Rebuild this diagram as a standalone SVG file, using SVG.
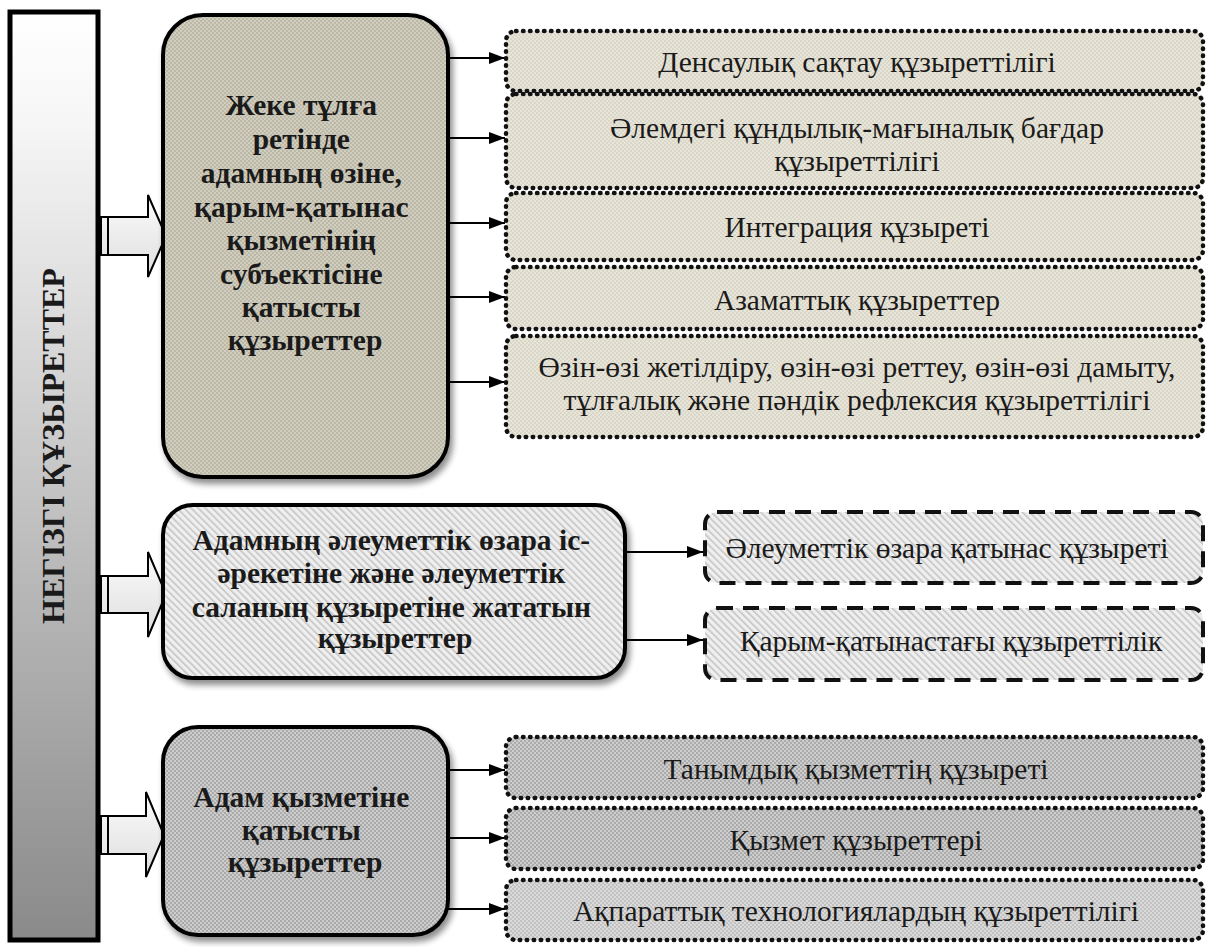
<svg xmlns="http://www.w3.org/2000/svg" width="1210" height="947" viewBox="0 0 1210 947">
<defs>
<style>
.big{stroke:#000;stroke-width:4;}
.sm{stroke:#111;stroke-width:4.5;stroke-dasharray:0.5 6.5;stroke-linecap:round;}
.dash{stroke:#111;stroke-width:4;stroke-dasharray:16 10;}
.bt{font-family:"Liberation Serif","Times New Roman",serif;font-weight:bold;font-size:29.5px;fill:#1a1a1a;text-anchor:middle;}
.st{font-family:"Liberation Serif","Times New Roman",serif;font-size:29.5px;fill:#1a1a1a;text-anchor:middle;}
.conn{stroke:#000;stroke-width:2;fill:none;}
.barrow{stroke:#000;stroke-width:2;fill:url(#gArrow);}
</style>
<linearGradient id="gBar" x1="0" y1="0" x2="0" y2="1">
<stop offset="0" stop-color="#ffffff"/>
<stop offset="0.12" stop-color="#f6f6f6"/>
<stop offset="0.5" stop-color="#c6c6c6"/>
<stop offset="1" stop-color="#8a8a8a"/>
</linearGradient>
<linearGradient id="gArrow" x1="0" y1="0" x2="0" y2="1">
<stop offset="0" stop-color="#fbfbfb"/>
<stop offset="1" stop-color="#dedede"/>
</linearGradient>
<pattern id="p1" width="4" height="4" patternUnits="userSpaceOnUse">
<rect width="4" height="4" fill="#d2cebf"/><rect width="2" height="2" fill="#bcb8a7"/><rect x="2" y="2" width="2" height="2" fill="#bcb8a7"/>
</pattern>
<pattern id="p1s" width="4" height="4" patternUnits="userSpaceOnUse">
<rect width="4" height="4" fill="#e7e4d9"/><rect width="2" height="2" fill="#dad6c8"/><rect x="2" y="2" width="2" height="2" fill="#dad6c8"/>
</pattern>
<pattern id="p2" width="5" height="5" patternUnits="userSpaceOnUse" patternTransform="rotate(-45)">
<rect width="5" height="5" fill="#efefef"/><rect width="1.6" height="5" fill="#c4c4c4"/>
</pattern>
<pattern id="p3" width="4" height="4" patternUnits="userSpaceOnUse">
<rect width="4" height="4" fill="#cdcdcd"/><rect width="2" height="2" fill="#aaaaaa"/><rect x="2" y="2" width="2" height="2" fill="#aaaaaa"/>
</pattern>
<pattern id="p3s" width="4" height="4" patternUnits="userSpaceOnUse">
<rect width="4" height="4" fill="#cdcdcd"/><rect width="2" height="2" fill="#ababab"/><rect x="2" y="2" width="2" height="2" fill="#ababab"/>
</pattern>
<pattern id="p3c" width="4" height="4" patternUnits="userSpaceOnUse">
<rect width="4" height="4" fill="#dadada"/><rect width="2" height="2" fill="#c2c2c2"/><rect x="2" y="2" width="2" height="2" fill="#c2c2c2"/>
</pattern>
<filter id="sh" x="-10%" y="-10%" width="130%" height="130%">
<feGaussianBlur in="SourceAlpha" stdDeviation="3"/>
<feOffset dx="3" dy="5" result="b"/>
<feComponentTransfer><feFuncA type="linear" slope="0.45"/></feComponentTransfer>
<feMerge><feMergeNode/><feMergeNode in="SourceGraphic"/></feMerge>
</filter>
<marker id="ah" viewBox="0 0 16 12" refX="16" refY="6" markerWidth="16" markerHeight="12" markerUnits="userSpaceOnUse" orient="auto">
<path d="M0,0 L16,6 L0,12 Z" fill="#000"/>
</marker>
</defs>

<rect width="1210" height="947" fill="#ffffff"/>

<g id="main-bar">
<rect x="10" y="12" width="88" height="928" fill="url(#gBar)" stroke="#000" stroke-width="5"/>
<text class="bt" style="font-size:32px" transform="translate(64,446) rotate(-90)">НЕГІЗГІ ҚҰЗЫРЕТТЕР</text>
</g>

<g id="block-arrows">
<path class="barrow" d="M101,217 H148 V195 L166,236 L148,277 V255 H101 Z"/>
<line x1="108" y1="217" x2="108" y2="255" stroke="#000" stroke-width="2"/>
<path class="barrow" d="M101,576 H148 V552 L166,594 L148,637 V613 H101 Z"/>
<line x1="108" y1="576" x2="108" y2="613" stroke="#000" stroke-width="2"/>
<path class="barrow" d="M101,816 H146 V792 L164,835 L146,877 V854 H101 Z"/>
<line x1="108" y1="816" x2="108" y2="854" stroke="#000" stroke-width="2"/>
</g>

<g id="connectors">
<line class="conn" x1="448" y1="58" x2="505" y2="58" marker-end="url(#ah)"/>
<line class="conn" x1="448" y1="138" x2="505" y2="138" marker-end="url(#ah)"/>
<line class="conn" x1="448" y1="223" x2="505" y2="223" marker-end="url(#ah)"/>
<line class="conn" x1="448" y1="297" x2="505" y2="297" marker-end="url(#ah)"/>
<line class="conn" x1="448" y1="382" x2="505" y2="382" marker-end="url(#ah)"/>
<line class="conn" x1="625" y1="552" x2="703" y2="552" marker-end="url(#ah)"/>
<line class="conn" x1="625" y1="640" x2="703" y2="640" marker-end="url(#ah)"/>
<line class="conn" x1="448" y1="770" x2="505" y2="770" marker-end="url(#ah)"/>
<line class="conn" x1="448" y1="838" x2="505" y2="838" marker-end="url(#ah)"/>
<line class="conn" x1="448" y1="909" x2="505" y2="909" marker-end="url(#ah)"/>
</g>

<g id="group1">
<rect class="big" x="163" y="15" width="285" height="462" rx="40" fill="url(#p1)" filter="url(#sh)"/>
<text class="bt">
<tspan x="305" y="115">Жеке тұлға</tspan>
<tspan x="305" y="149">ретінде</tspan>
<tspan x="305" y="183">адамның өзіне,</tspan>
<tspan x="305" y="217">қарым-қатынас</tspan>
<tspan x="305" y="250">қызметінің</tspan>
<tspan x="305" y="284">субъектісіне</tspan>
<tspan x="305" y="317">қатысты</tspan>
<tspan x="305" y="350">құзыреттер</tspan>
</text>
</g>

<g id="g1-item1">
<rect class="sm" x="506" y="31" width="697" height="60" rx="10" fill="url(#p1s)"/>
<text class="st" x="857" y="72">Денсаулық сақтау құзыреттілігі</text>
</g>
<g id="g1-item2">
<rect class="sm" x="506" y="94" width="697" height="94" rx="10" fill="url(#p1s)"/>
<text class="st"><tspan x="857" y="138">Әлемдегі құндылық-мағыналық бағдар</tspan><tspan x="857" y="171">құзыреттілігі</tspan></text>
</g>
<g id="g1-item3">
<rect class="sm" x="506" y="193" width="697" height="67" rx="10" fill="url(#p1s)"/>
<text class="st" x="857" y="237">Интеграция құзыреті</text>
</g>
<g id="g1-item4">
<rect class="sm" x="506" y="267" width="697" height="62" rx="10" fill="url(#p1s)"/>
<text class="st" x="857" y="310">Азаматтық құзыреттер</text>
</g>
<g id="g1-item5">
<rect class="sm" x="506" y="336" width="697" height="101" rx="10" fill="url(#p1s)"/>
<text class="st"><tspan x="857" y="377">Өзін-өзі жетілдіру, өзін-өзі реттеу, өзін-өзі дамыту,</tspan><tspan x="857" y="410">тұлғалық және пәндік рефлексия құзыреттілігі</tspan></text>
</g>

<g id="group2">
<rect class="big" x="163" y="505" width="462" height="173" rx="30" fill="url(#p2)" filter="url(#sh)"/>
<text class="bt">
<tspan x="395" y="550">Адамның әлеуметтік өзара іс-</tspan>
<tspan x="395" y="583">әрекетіне және әлеуметтік</tspan>
<tspan x="395" y="617">саланың құзыретіне жататын</tspan>
<tspan x="395" y="648">құзыреттер</tspan>
</text>
</g>
<g id="g2-item1">
<rect class="dash" x="705" y="512" width="498" height="71" rx="12" fill="url(#p2)"/>
<text class="st" x="947" y="558">Әлеуметтік өзара қатынас құзыреті</text>
</g>
<g id="g2-item2">
<rect class="dash" x="705" y="608" width="498" height="72" rx="12" fill="url(#p2)"/>
<text class="st" x="951" y="651">Қарым-қатынастағы құзыреттілік</text>
</g>

<g id="group3">
<rect class="big" x="163" y="727" width="285" height="208" rx="35" fill="url(#p3)" filter="url(#sh)"/>
<text class="bt">
<tspan x="305" y="807">Адам қызметіне</tspan>
<tspan x="305" y="840">қатысты</tspan>
<tspan x="305" y="872">құзыреттер</tspan>
</text>
</g>
<g id="g3-item1">
<rect class="sm" x="506" y="737" width="697" height="61" rx="10" fill="url(#p3s)"/>
<text class="st" x="856" y="779">Танымдық қызметтің құзыреті</text>
</g>
<g id="g3-item2">
<rect class="sm" x="506" y="808" width="697" height="61" rx="10" fill="url(#p3s)"/>
<text class="st" x="856" y="850">Қызмет құзыреттері</text>
</g>
<g id="g3-item3">
<rect class="sm" x="506" y="880" width="697" height="60" rx="10" fill="url(#p3c)"/>
<text class="st" x="856" y="921">Ақпараттық технологиялардың құзыреттілігі</text>
</g>
</svg>
